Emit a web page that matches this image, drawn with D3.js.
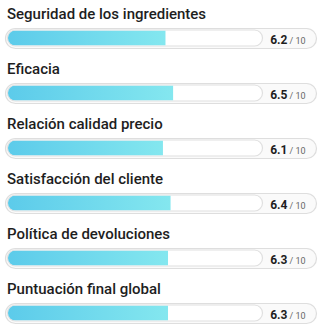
<!DOCTYPE html>
<html><head><meta charset="utf-8">
<script src="https://cdn.jsdelivr.net/npm/d3@7"></script>
<style>html,body{margin:0;padding:0;background:#fff;}svg{display:block;}</style>
</head><body><svg id="c" width="321" height="330"></svg>
<script>
const categories = ["Seguridad de los ingredientes","Eficacia","Relación calidad precio","Satisfacción del cliente","Política de devoluciones","Puntuación final global"];
const values = [6.2, 6.5, 6.1, 6.4, 6.3, 6.3];
const maxLabel = "10";

const svg = d3.select("#c");
const font = "Roboto, 'DejaVu Sans', sans-serif";
const y = d3.scaleBand().domain(categories).range([0, 330]).paddingInner(0).paddingOuter(0);
const x = d3.scaleLinear().domain([0, 10]).range([8, 262]);

const defs = svg.append("defs");
const grad = defs.append("linearGradient").attr("id","g").attr("x1","0%").attr("x2","100%");
grad.append("stop").attr("offset","0%").attr("stop-color","#5ccbea");
grad.append("stop").attr("offset","100%").attr("stop-color","#84e7ef");

const rows = svg.selectAll("g.row").data(categories).enter().append("g")
  .attr("class","row").attr("transform", d => `translate(0,${y(d)})`);

rows.append("text").attr("x", 7).attr("y", 18.5).text(d => d)
  .attr("font-family", font).attr("font-size", 15).attr("font-weight", 500).attr("fill", "#1e1e1e");

rows.append("rect").attr("x", 5.5).attr("y", 28.5).attr("width", 311).attr("height", 20).attr("rx", 10)
  .attr("fill", "#fafafa").attr("stroke", "#dedede").attr("stroke-width", 1.2);

rows.each(function(d, i){
  const g = d3.select(this);
  const cid = "clip" + i;
  defs.append("clipPath").attr("id", cid).append("rect")
    .attr("x", x(0)).attr("y", 30.5).attr("width", x(10)-x(0)).attr("height", 15).attr("rx", 7.5);
  g.append("rect").attr("x", x(0)-0.5).attr("y", 30).attr("width", x(10)-x(0)+1).attr("height", 16).attr("rx", 8)
    .attr("fill", "#fff").attr("stroke", "#e0e0e0").attr("stroke-width", 1.2);
  g.append("rect").attr("clip-path", `url(#${cid})`).attr("x", x(0)).attr("y", 30.5)
    .attr("width", x(values[i]) - x(0)).attr("height", 15).attr("fill", "url(#g)");
  const t = g.append("text").attr("x", 305.5).attr("y", 43.5).attr("text-anchor","end").attr("font-family", font);
  t.append("tspan").text(values[i].toFixed(1)).attr("font-size", 12).attr("font-weight", 700).attr("fill", "#1e1e1e");
  t.append("tspan").text("/ " + maxLabel).attr("font-size", 9).attr("fill", "#666").attr("dx", 2);
});
</script></body></html>
